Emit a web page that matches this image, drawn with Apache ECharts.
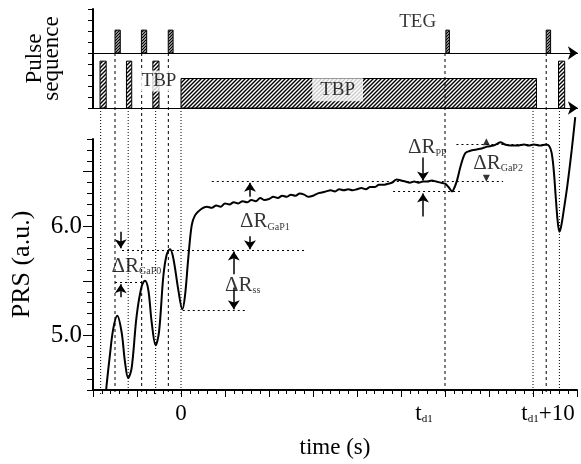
<!DOCTYPE html>
<html>
<head>
<meta charset="utf-8">
<script src="https://cdn.jsdelivr.net/npm/echarts/dist/echarts.min.js"></script>
<style>
html,body{margin:0;padding:0;background:#fff}
#main{width:581px;height:464px}
</style>
</head>
<body>
<div id="main"></div>
<script>
// PRS trace
var timeS = [-8.5, -8.45, -8.08, -7.70, -7.24, -6.75, -6.37, -6.00, -5.61, -5.04, -4.47, -4.10, -3.72, -3.33, -2.88, -2.50, -2.01, -1.63, -1.25, -0.88, -0.31, 0.15, 0.45, 0.83, 1.22, 1.59, 2.16, 2.92,
  3.5, 4.0, 4.5, 5.0, 5.5, 6.0, 6.5, 7.0, 7.5, 8.0, 8.5, 9.0, 9.5, 10.0, 10.5, 11.0, 11.5, 12.0, 12.5, 13.0, 13.5, 14.0, 14.5, 15.0, 15.5, 16.0, 16.5, 17.0, 17.5, 18.0, 18.5, 19.0, 19.5, 20.0,
  20.5, 21.0, 21.5, 22.0, 22.5, 23.0, 23.5, 24.0, 24.5, 25.0, 25.5, 26.0, 26.5, 27.0, 27.5, 28.0, 28.5, 29.0, 29.5, 30.0, 30.4, 30.8, 31.1, 31.4, 31.8, 32.3, 32.8, 33.3, 34.0, 34.8, 35.5, 36.0,
  36.3, 36.8, 37.5, 38.2, 39.0, 39.5, 40.1, 40.8, 41.5, 41.8, 42.1, 42.35, 42.6, 42.8, 43.0, 43.2, 43.5, 43.9, 44.4, 44.8];
var prs = [4.50, 4.55, 4.82, 5.06, 5.18, 5.03, 4.76, 4.61, 4.70, 5.18, 5.45, 5.50, 5.42, 5.12, 4.91, 5.03, 5.54, 5.74, 5.79, 5.71, 5.42, 5.24, 5.36, 5.71, 6.01, 6.10, 6.15, 6.18,
  6.17, 6.19, 6.18, 6.21, 6.20, 6.22, 6.21, 6.23, 6.22, 6.24, 6.23, 6.26, 6.24, 6.25, 6.27, 6.26, 6.28, 6.27, 6.29, 6.28, 6.30, 6.29, 6.27, 6.28, 6.30, 6.31, 6.32, 6.33, 6.32, 6.34, 6.33, 6.34, 6.33, 6.34,
  6.35, 6.34, 6.36, 6.36, 6.38, 6.38, 6.39, 6.40, 6.43, 6.42, 6.41, 6.40, 6.41, 6.40, 6.41, 6.41, 6.42, 6.41, 6.40, 6.39, 6.36, 6.32, 6.36, 6.43, 6.56, 6.67, 6.69, 6.70, 6.71, 6.73, 6.74, 6.76,
  6.77, 6.75, 6.74, 6.74, 6.75, 6.74, 6.75, 6.74, 6.75, 6.74, 6.68, 6.52, 6.25, 6.05, 5.95, 6.00, 6.15, 6.37, 6.70, 7.00];

// pulse sequence: [start, end] in s
var tegPulses = [[-7.5, -6.9], [-4.5, -3.9], [-1.45, -0.9], [30.1, 30.5], [41.5, 42.0]];
var tbpPulses = [[-9.2, -8.5], [-6.2, -5.6], [-3.2, -2.5], [42.9, 43.6]];
var tbpLong = [0, 40.4];
var tegBase = 5, tegTop = 7.08;
var tbpBase = 0, tbpTop = 4.26, tbpLongTop = 2.68;

// vertical guides (s)
var tegGuides = [-7.5, -4.47, -1.44, 30, 41.5];
var tbpGuides = [-9.13, -6.0, -2.88, 0, 40, 43.0];

// dotted reference levels
var refLevels = [5.49, 5.78, 5.23, 6.41, 6.32, 6.75];
var refFrom = [-7.5, -6.7, 0.2, 3.5, 24.1, 31.3];
var refTo = [-4.1, 14.1, 7.5, 36.6, 31.7, 41.6];

// arrows
var arrowT = [-6.85, -6.85, 7.84, 7.84, 6.0, 6.0, 27.5, 27.5];
var arrowFrom = [5.95, 5.35, 6.27, 5.91, 5.56, 5.44, 6.63, 6.09];
var arrowTo = [5.80, 5.47, 6.40, 5.79, 5.77, 5.24, 6.42, 6.30];

// delta labels
var dLabels = ['GaP0', 'GaP1', 'ss', 'PP', 'GaP2'];
var dLabelT = [-7.9, 6.7, 5.0, 25.8, 33.2];
var dLabelV = [5.635, 6.045, 5.46, 6.72, 6.58];

var xTickLabels = {0: '{t|0}', 30: '{t|t}{s|d1}{g|}', 40: '{h|}{t|t}{s|d1}{t|+10}'};

var FONT = 'Liberation Serif';
var AXIS_BOTTOM = 464 - 70;

function hatch(step, w) {
	var c = document.createElement('canvas');
	c.width = step; c.height = step;
	var g = c.getContext('2d');
	g.strokeStyle = '#000';
	g.lineWidth = w;
	g.beginPath();
	g.moveTo(0, step); g.lineTo(step, 0);
	g.moveTo(-1, 1); g.lineTo(1, -1);
	g.moveTo(step - 1, step + 1); g.lineTo(step + 1, step - 1);
	g.stroke();
	return {image: c, repeat: 'repeat'};
}
var hatchTbp = hatch(4, 1.4);
var hatchTeg = hatch(3, 1.3);

var pulseData = [];
tegPulses.forEach(function (p) { pulseData.push([p[0], p[1], tegTop, tegBase, 1]); });
tbpPulses.forEach(function (p) { pulseData.push([p[0], p[1], tbpTop, tbpBase, 0]); });
pulseData.push([tbpLong[0], tbpLong[1], tbpLongTop, tbpBase, 0]);

var guideData = [];
tegGuides.forEach(function (t) { guideData.push([t, tegBase, 1]); });
tbpGuides.forEach(function (t) { guideData.push([t, tbpBase, 0]); });

var curve = timeS.map(function (t, i) { return [t, prs[i]]; });
var refData = refLevels.map(function (v, i) { return {coords: [[refFrom[i], v], [refTo[i], v]]}; });
var arrowData = arrowT.map(function (t, i) { return {coords: [[t, arrowFrom[i]], [t, arrowTo[i]]]}; });
var labelData = dLabels.map(function (s, i) { return {value: [dLabelT[i], dLabelV[i]], sub: s}; });

var chart = echarts.init(document.getElementById('main'));
chart.setOption({
	backgroundColor: '#fff',
	animation: false,
	textStyle: {fontFamily: FONT, color: '#000'},
	grid: [
		{left: 93, right: 4, top: 9, bottom: 356},
		{left: 93, right: 4, top: 139, bottom: 70}
	],
	xAxis: [
		{gridIndex: 0, type: 'value', min: -10, max: 45, show: false, axisLine: {onZero: false}},
		{
			gridIndex: 1, type: 'value', min: -10, max: 45, interval: 5,
			name: 'time (s)', nameLocation: 'middle', nameGap: 46,
			nameTextStyle: {fontFamily: FONT, fontSize: 23, color: '#000'},
			axisLine: {onZero: false, lineStyle: {color: '#000', width: 2}},
			axisTick: {length: 7, lineStyle: {color: '#000', width: 1}},
			minorTick: {show: true, splitNumber: 5, length: 4, lineStyle: {color: '#000', width: 1}},
			splitLine: {show: false},
			axisLabel: {
				margin: 12, color: '#000',
				formatter: function (v) { return xTickLabels[v] || ''; },
				rich: {
					t: {fontFamily: FONT, fontSize: 23, color: '#000'},
					s: {fontFamily: FONT, fontSize: 11, color: '#000', verticalAlign: 'bottom', padding: [10, 0, 0, 0]},
					g: {width: 42},
					h: {width: 30}
				}
			}
		}
	],
	yAxis: [
		{
			gridIndex: 0, type: 'value', min: 0, max: 9, interval: 1,
			name: 'Pulse\nsequence', nameLocation: 'middle', nameRotate: 90, nameGap: 33,
			nameTextStyle: {fontFamily: FONT, fontSize: 23, lineHeight: 17, color: '#000'},
			axisLine: {onZero: false, lineStyle: {color: '#000', width: 2}},
			axisTick: {length: 5, lineStyle: {color: '#000', width: 1}},
			axisLabel: {show: false},
			splitLine: {show: false}
		},
		{
			gridIndex: 1, type: 'value', min: 4.5, max: 6.8, interval: 0.1,
			name: 'PRS (a.u.)', nameLocation: 'middle', nameRotate: 90, nameGap: 58,
			nameTextStyle: {fontFamily: FONT, fontSize: 26, color: '#000'},
			axisLine: {onZero: false, lineStyle: {color: '#000', width: 2}},
			axisTick: {length: 6, lineStyle: {color: '#000', width: 1}},
			axisLabel: {
				margin: 11, color: '#000', fontFamily: FONT, fontSize: 25,
				formatter: function (v) {
					return (Math.abs(v - 5) < 1e-6 || Math.abs(v - 6) < 1e-6) ? v.toFixed(1) : '';
				}
			},
			splitLine: {show: false}
		},
		{
			gridIndex: 1, type: 'value', min: 4.5, max: 6.8, position: 'left',
			axisLine: {show: false, onZero: false},
			axisTick: {length: 10, customValues: [5, 5.5, 6, 6.5], lineStyle: {color: '#000', width: 1}},
			axisLabel: {show: false},
			splitLine: {show: false}
		}
	],
	series: [
		{
			type: 'custom', xAxisIndex: 0, yAxisIndex: 0, clip: false, z: 1,
			data: guideData,
			renderItem: function (params, api) {
				var p = api.coord([api.value(0), api.value(1)]);
				var dashed = api.value(2) === 1;
				return {
					type: 'line',
					shape: {x1: p[0], y1: p[1], x2: p[0], y2: AXIS_BOTTOM},
					style: {stroke: '#000', lineWidth: 1, lineDash: dashed ? [3, 3] : [1, 2]}
				};
			}
		},
		{
			type: 'custom', xAxisIndex: 0, yAxisIndex: 0, clip: false, z: 3,
			data: pulseData,
			renderItem: function (params, api) {
				var p0 = api.coord([api.value(0), api.value(2)]);
				var p1 = api.coord([api.value(1), api.value(3)]);
				return {
					type: 'rect',
					shape: {x: p0[0], y: p0[1], width: p1[0] - p0[0], height: p1[1] - p0[1]},
					style: {fill: api.value(4) === 1 ? hatchTeg : hatchTbp, stroke: '#000', lineWidth: 1}
				};
			}
		},
		{
			type: 'lines', coordinateSystem: 'cartesian2d', xAxisIndex: 0, yAxisIndex: 0, clip: false, z: 4,
			symbol: ['none', 'arrow'], symbolSize: 10,
			lineStyle: {color: '#000', width: 1, opacity: 1},
			data: [
				{coords: [[-10, tegBase], [45.1, tegBase]]},
				{coords: [[-10, tbpBase], [45.1, tbpBase]]}
			]
		},
		{
			type: 'scatter', xAxisIndex: 0, yAxisIndex: 0, symbolSize: 0, z: 6,
			data: [
				{value: [26.9, 7.8], name: 'TEG'},
				{value: [-2.5, 2.46], name: 'TBP', label: {backgroundColor: '#fff', padding: [1, 1]}},
				{value: [17.8, 1.66], name: 'TBP', label: {backgroundColor: '#fff', padding: [2, 8]}}
			],
			label: {
				show: true, position: 'inside', color: '#000', fontFamily: FONT, fontSize: 19,
				formatter: function (p) { return p.name; }
			},
			labelLayout: {hideOverlap: false}
		},
		{
			type: 'line', xAxisIndex: 1, yAxisIndex: 1, data: curve, smooth: 0.35,
			showSymbol: false, clip: false, z: 5,
			lineStyle: {color: '#000', width: 2}
		},
		{
			type: 'lines', coordinateSystem: 'cartesian2d', xAxisIndex: 1, yAxisIndex: 1, z: 2,
			lineStyle: {color: '#000', width: 1, type: [2, 3], opacity: 1},
			data: refData
		},
		{
			type: 'lines', coordinateSystem: 'cartesian2d', xAxisIndex: 1, yAxisIndex: 1, z: 6,
			symbol: ['none', 'arrow'], symbolSize: 9,
			lineStyle: {color: '#000', width: 1.5, opacity: 1},
			data: arrowData
		},
		{
			type: 'scatter', xAxisIndex: 1, yAxisIndex: 1, symbol: 'triangle', symbolSize: 7,
			itemStyle: {color: '#000'},
			data: [{value: [34.7, 6.775]}, {value: [34.7, 6.44], symbolRotate: 180}]
		},
		{
			type: 'scatter', xAxisIndex: 1, yAxisIndex: 1, symbolSize: 0, z: 7,
			data: labelData,
			label: {
				show: true, position: 'right', distance: 0,
				formatter: function (p) { return '{d|ΔR}{s|' + p.data.sub + '}'; },
				rich: {
					d: {fontFamily: FONT, fontSize: 21, color: '#000'},
					s: {fontFamily: FONT, fontSize: 10, color: '#000', verticalAlign: 'bottom', padding: [10, 0, 0, 0]}
				}
			},
			labelLayout: {hideOverlap: false}
		}
	]
});
</script>
</body>
</html>
